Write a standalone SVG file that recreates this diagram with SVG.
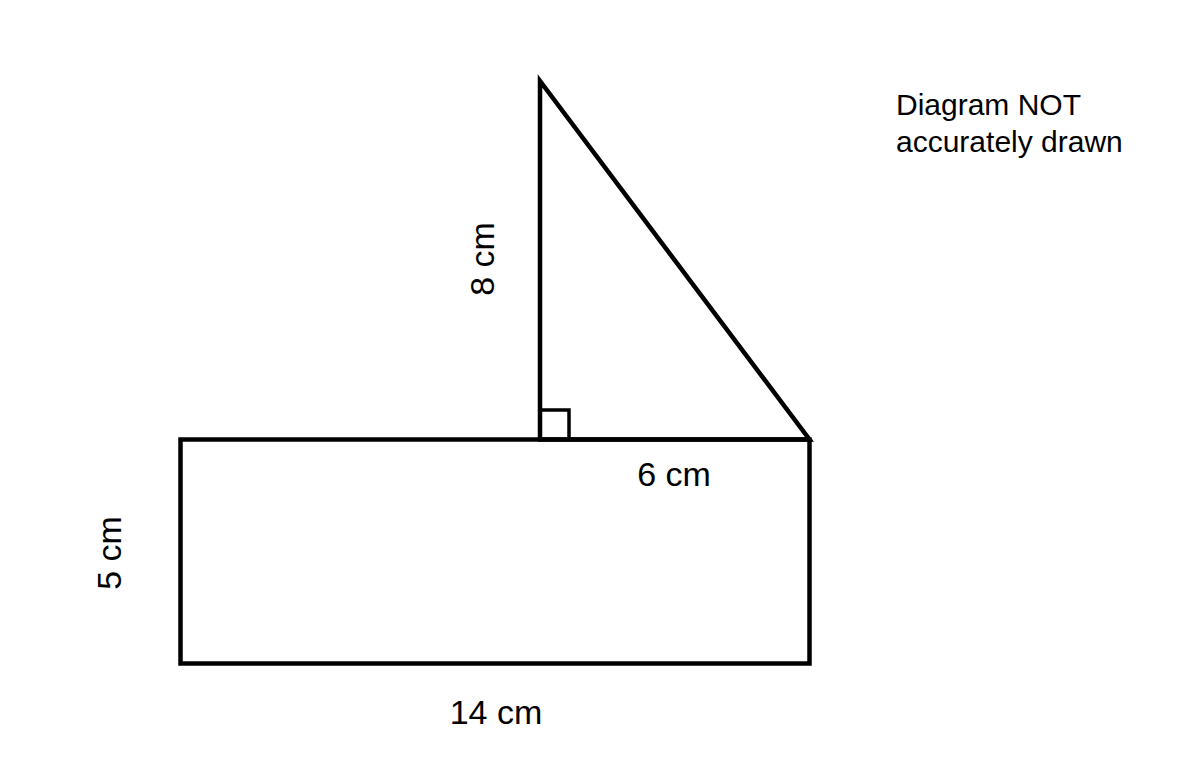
<svg xmlns="http://www.w3.org/2000/svg" width="1200" height="760" viewBox="0 0 1200 760">
<style>
.shape{fill:none;stroke:#000;stroke-width:4.5;stroke-linejoin:miter;stroke-linecap:square}
.ra{fill:none;stroke:#000;stroke-width:3.5}
.lbl{font-family:"Liberation Sans",Arial,sans-serif;font-size:34px;fill:#000}
.note{font-family:"Liberation Sans",Arial,sans-serif;font-size:30px;fill:#000}
</style>
<rect width="1200" height="760" fill="#fff"/>
<g id="rectangle">
<rect class="shape" x="180.5" y="439.5" width="629" height="224"/>
</g>
<g id="triangle">
<polygon class="shape" points="540,81 540,439.5 809.5,439.5"/>
<polyline class="ra" points="540,410 569,410 569,439.5"/>
</g>
<g id="labels">
<text class="lbl" transform="translate(494,259) rotate(-90)" text-anchor="middle">8 cm</text>
<text class="lbl" transform="translate(121,553) rotate(-90)" text-anchor="middle">5 cm</text>
<text class="lbl" x="674" y="486" text-anchor="middle">6 cm</text>
<text class="lbl" x="496" y="724" text-anchor="middle">14 cm</text>
<text class="note" x="896" y="115">Diagram NOT</text>
<text class="note" x="896" y="152">accurately drawn</text>
</g>
</svg>
